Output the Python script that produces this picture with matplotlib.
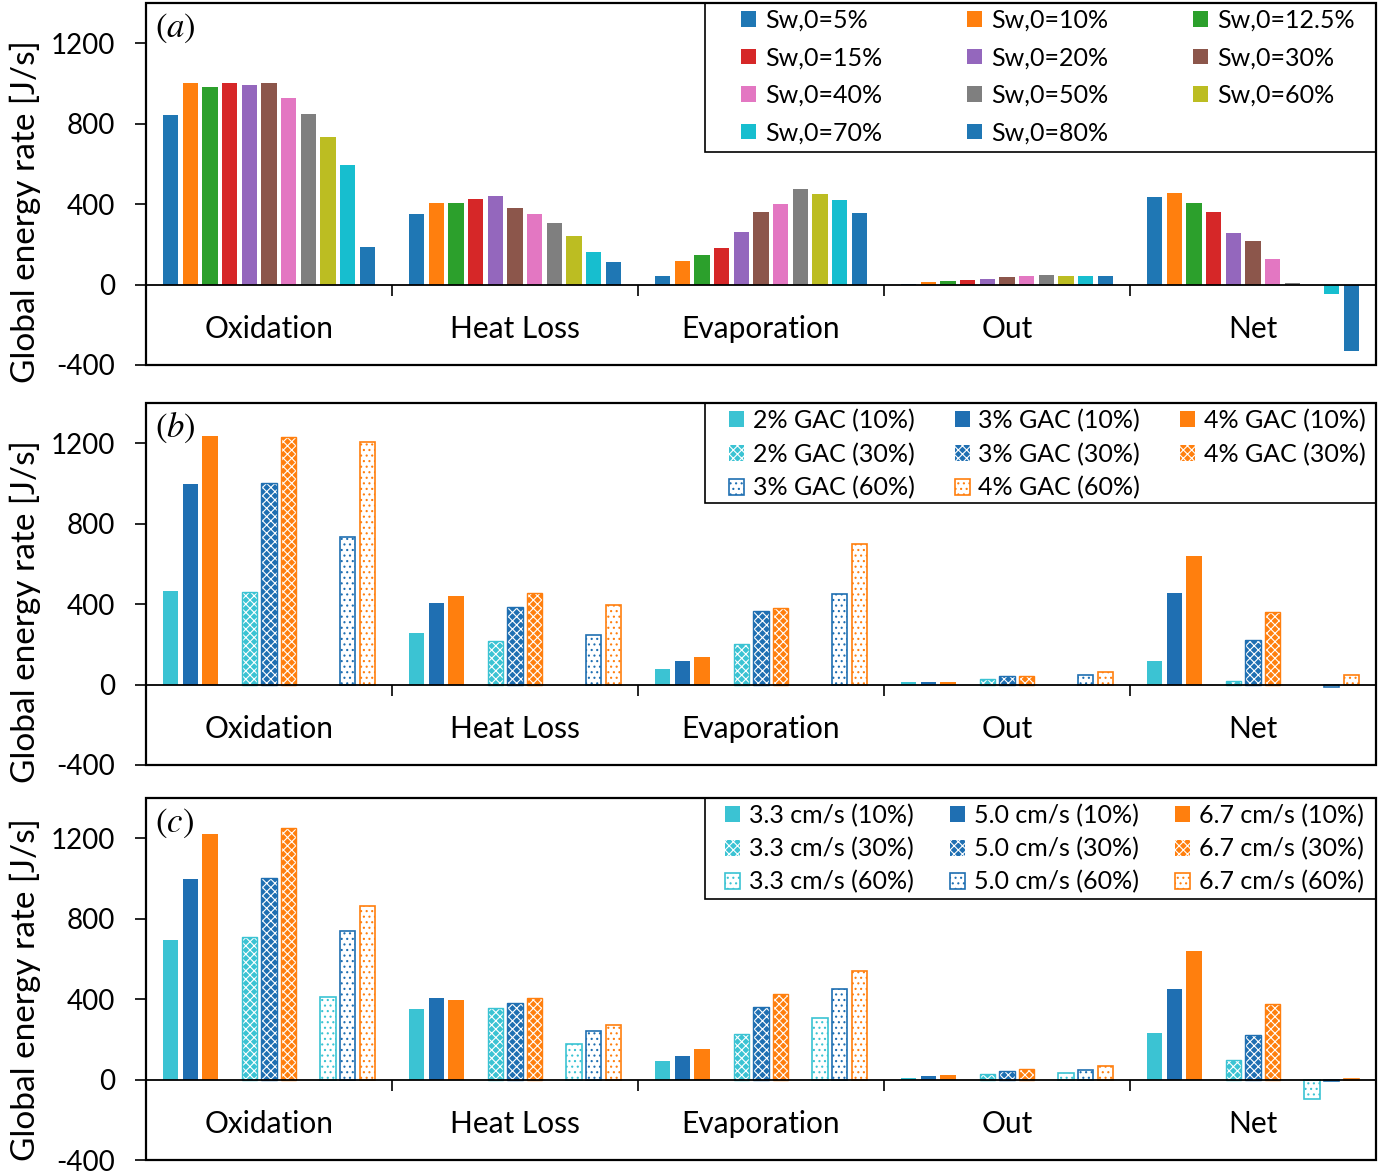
import matplotlib
matplotlib.use("Agg")
from matplotlib import pyplot as plt
from matplotlib.patches import Patch, Rectangle

plt.rcParams["font.family"] = ["Lato", "DejaVu Sans"]
plt.rcParams["mathtext.fontset"] = "stix"
plt.rcParams["hatch.linewidth"] = 0.8
plt.rcParams["axes.unicode_minus"] = False

categories = ["Oxidation", "Heat Loss", "Evaporation", "Out", "Net"]

# (a) initial water saturation, values for Oxidation, Heat Loss, Evaporation, Out, Net
sw_labels = ["Sw,0=5%", "Sw,0=10%", "Sw,0=12.5%", "Sw,0=15%", "Sw,0=20%", "Sw,0=30%",
             "Sw,0=40%", "Sw,0=50%", "Sw,0=60%", "Sw,0=70%", "Sw,0=80%"]
sw_colors = ["#1f77b4", "#ff7f0e", "#2ca02c", "#d62728", "#9467bd", "#8c564b",
             "#e377c2", "#7f7f7f", "#bcbd22", "#17becf", "#1f77b4"]
sw_values = [
    [843, 350, 43, 3, 436],
    [1000, 407, 117, 15, 453],
    [985, 408, 145, 20, 405],
    [1002, 426, 182, 23, 362],
    [993, 440, 263, 26, 256],
    [1000, 382, 360, 36, 215],
    [929, 350, 400, 43, 127],
    [846, 306, 474, 48, 7],
    [734, 241, 450, 43, -2],
    [593, 164, 423, 43, -46],
    [185, 111, 354, 43, -331],
]

# (b) GAC content at three saturations
gac_labels = ["2% GAC (10%)", "3% GAC (10%)", "4% GAC (10%)",
              "2% GAC (30%)", "3% GAC (30%)", "4% GAC (30%)",
              "3% GAC (60%)", "4% GAC (60%)"]
gac_values = [
    [466, 255, 79, 12, 116],
    [997, 407, 117, 15, 453],
    [1238, 441, 136, 15, 638],
    [460, 215, 202, 30, 20],
    [1002, 384, 364, 41, 220],
    [1232, 455, 380, 41, 360],
    [736, 245, 451, 48, -10],
    [1205, 397, 698, 63, 48],
]
gac_slots = [0, 1, 2, 4, 5, 6, 9, 10]
gac_colors = ["#3bc3d3", "#1f6fb2", "#ff7f0e", "#3bc3d3", "#1f6fb2", "#ff7f0e", "#1f6fb2", "#ff7f0e"]
gac_styles = ["solid", "solid", "solid", "cross", "cross", "cross", "dots", "dots"]

# (c) air flux at three saturations
flux_labels = ["3.3 cm/s (10%)", "5.0 cm/s (10%)", "6.7 cm/s (10%)",
               "3.3 cm/s (30%)", "5.0 cm/s (30%)", "6.7 cm/s (30%)",
               "3.3 cm/s (60%)", "5.0 cm/s (60%)", "6.7 cm/s (60%)"]
flux_values = [
    [695, 352, 94, 10, 233],
    [998, 405, 119, 17, 451],
    [1222, 396, 153, 25, 642],
    [707, 358, 226, 28, 97],
    [1003, 383, 362, 41, 220],
    [1250, 406, 425, 51, 374],
    [411, 177, 304, 31, -98],
    [737, 244, 451, 48, -7],
    [864, 273, 542, 68, 5],
]
flux_slots = [0, 1, 2, 4, 5, 6, 8, 9, 10]
flux_colors = ["#3bc3d3", "#1f6fb2", "#ff7f0e"] * 3
flux_styles = ["solid"] * 3 + ["cross"] * 3 + ["dots"] * 3

STEP = 0.08
WIDTH = 0.062
FS = 20


def bar_style(color, style):
    if style == "solid":
        return dict(facecolor=color, edgecolor=color, linewidth=0)
    if style == "cross":
        return dict(facecolor=color, edgecolor="white", hatch="xxxx", linewidth=0)
    return dict(facecolor="white", edgecolor=color, hatch="...", linewidth=1.2)


def draw_series(ax, values, slot, color, style):
    xs = [i + 0.5 + (slot - 5) * STEP for i in range(len(categories))]
    ax.bar(xs, values, WIDTH, **bar_style(color, style))
    if style == "cross":
        ax.bar(xs, values, WIDTH, facecolor="none", edgecolor=color, linewidth=1.0)
    if style == "solid":
        return Patch(facecolor=color, edgecolor=color, linewidth=0)
    return Patch(**bar_style(color, style))


def setup_axes(ax, tag, label_y=0.425):
    ax.set_xlim(0, len(categories))
    ax.set_ylim(-400, 1400)
    ax.set_yticks([-400, 0, 400, 800, 1200])
    ax.tick_params(axis="y", direction="out", length=8, width=1.2, labelsize=FS, pad=14)
    ax.set_ylabel("Global energy rate [J/s]", fontsize=24)
    ax.yaxis.set_label_coords(-0.085, label_y)

    # x axis at zero: separators between categories, names below
    ax.spines["bottom"].set_position(("data", 0))
    ax.set_xticks([1, 2, 3, 4])
    ax.set_xticks([i + 0.5 for i in range(len(categories))], minor=True)
    ax.set_xticklabels([])
    ax.set_xticklabels(categories, minor=True, fontsize=21.5)
    ax.tick_params(axis="x", which="major", direction="out", length=8, width=1.2)
    ax.tick_params(axis="x", which="minor", length=0, pad=22)
    for sp in ax.spines.values():
        sp.set_linewidth(1.3)
    ax.add_patch(Rectangle((0, 0), 1, 1, transform=ax.transAxes, fill=False,
                           edgecolor="black", linewidth=1.6, clip_on=False, zorder=5))
    ax.text(0.0073, 0.931, tag, transform=ax.transAxes, fontsize=25,
            ha="left", va="center")


fig = plt.figure(figsize=(13.89, 11.74), dpi=100)
left, width = 0.1051, 0.8855
ax_a = fig.add_axes([left, 0.6891, width, 0.3083])
ax_b = fig.add_axes([left, 0.3484, width, 0.3083])
ax_c = fig.add_axes([left, 0.0119, width, 0.3083])

# panel (a)
handles = []
for k, (vals, col) in enumerate(zip(sw_values, sw_colors)):
    handles.append(draw_series(ax_a, vals, k, col, "solid"))
setup_axes(ax_a, r"$(a)$")

# panel (b)
gac_handles = []
for vals, slot, col, sty in zip(gac_values, gac_slots, gac_colors, gac_styles):
    gac_handles.append(draw_series(ax_b, vals, slot, col, sty))
setup_axes(ax_b, r"$(b)$")

# panel (c)
flux_handles = []
for vals, slot, col, sty in zip(flux_values, flux_slots, flux_colors, flux_styles):
    flux_handles.append(draw_series(ax_c, vals, slot, col, sty))
setup_axes(ax_c, r"$(c)$", label_y=0.47)


def add_legend(ax, hs, labels, order, box_bottom, x_first, colsp, rowsp):
    # white box with black frame, legend entries placed inside
    ax.add_patch(Rectangle((0.4545, box_bottom), 0.5455, 1 - box_bottom,
                           transform=ax.transAxes, facecolor="white",
                           edgecolor="black", linewidth=1.2, zorder=4))
    leg = ax.legend([hs[i] for i in order], [labels[i] for i in order], ncol=3,
                    loc="upper left", bbox_to_anchor=(x_first, 0.984), borderaxespad=0,
                    fontsize=18, frameon=False, borderpad=0,
                    handlelength=0.6, handleheight=0.6, handletextpad=0.35,
                    columnspacing=colsp, labelspacing=rowsp)
    leg.set_zorder(6)


add_legend(ax_a, handles, sw_labels, [0, 3, 6, 9, 1, 4, 7, 10, 2, 5, 8],
           0.588, (741 - 146) / 1230, 3.4, 0.58)
add_legend(ax_b, gac_handles, gac_labels, [0, 3, 6, 1, 4, 7, 2, 5],
           0.724, (729 - 146) / 1230, 1.6, 0.42)
add_legend(ax_c, flux_handles, flux_labels, [0, 3, 6, 1, 4, 7, 2, 5, 8],
           0.721, (725 - 146) / 1230, 1.45, 0.4)

fig.savefig("out.png", dpi=100)
